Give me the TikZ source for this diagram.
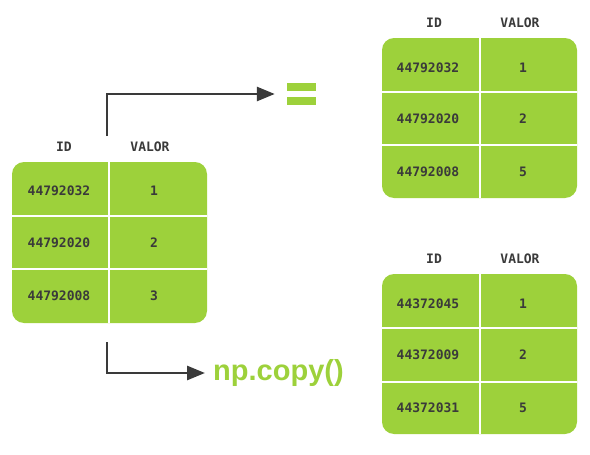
\documentclass[tikz,border=0pt]{standalone}
\usepackage{fontspec}
\usetikzlibrary{arrows.meta}
\newfontfamily\cellfont{DejaVu Sans Mono}
\newfontfamily\codefont{Liberation Sans}
\definecolor{lime}{RGB}{157,209,59}
\definecolor{ink}{RGB}{58,58,58}

\begin{document}
\begin{tikzpicture}[x=1pt,y=-1pt,
  tbl/.style={fill=lime,rounded corners=12pt},
  sep/.style={draw=white,line width=2.4pt},
  cell/.style={font=\cellfont\bfseries\fontsize{13}{15}\selectfont,text=ink,inner sep=0pt},
  arr/.style={draw=ink,line width=2.8pt,-{Triangle[length=18pt,width=14pt]}}]
\useasboundingbox (0,0) rectangle (590,455);
% original array
\fill[tbl] (12,162) rectangle (207,323);
\draw[sep] (109,162) -- (109,323);
\draw[sep] (12,216) -- (207,216);
\draw[sep] (12,269) -- (207,269);
\node[cell] (orig-hid) at (64,147) {ID};
\node[cell] (orig-hval) at (150,147) {VALOR};
\node[cell] (orig-id1) at (59,191) {44792032};
\node[cell] (orig-val1) at (154,191) {1};
\node[cell] (orig-id2) at (59,243) {44792020};
\node[cell] (orig-val2) at (154,243) {2};
\node[cell] (orig-id3) at (59,296) {44792008};
\node[cell] (orig-val3) at (154,296) {3};
% assignment with =
\fill[tbl] (382,38) rectangle (577,198);
\draw[sep] (480,38) -- (480,198);
\draw[sep] (382,92) -- (577,92);
\draw[sep] (382,145) -- (577,145);
\node[cell] (view-hid) at (434,23) {ID};
\node[cell] (view-hval) at (520,23) {VALOR};
\node[cell] (view-id1) at (428,68) {44792032};
\node[cell] (view-val1) at (523,68) {1};
\node[cell] (view-id2) at (428,119) {44792020};
\node[cell] (view-val2) at (523,119) {2};
\node[cell] (view-id3) at (428,172) {44792008};
\node[cell] (view-val3) at (523,172) {5};
% np.copy()
\fill[tbl] (382,274) rectangle (577,434);
\draw[sep] (480,274) -- (480,434);
\draw[sep] (382,328) -- (577,328);
\draw[sep] (382,382) -- (577,382);
\node[cell] (copy-hid) at (434,259) {ID};
\node[cell] (copy-hval) at (520,259) {VALOR};
\node[cell] (copy-id1) at (428,304) {44372045};
\node[cell] (copy-val1) at (523,304) {1};
\node[cell] (copy-id2) at (428,355) {44372009};
\node[cell] (copy-val2) at (523,355) {2};
\node[cell] (copy-id3) at (428,408) {44372031};
\node[cell] (copy-val3) at (523,408) {5};
% arrows
\coordinate (up) at (107,136);
\node[minimum width=29pt,minimum height=22pt,inner sep=0pt] (eq) at (301.5,94) {};
\fill[lime] (eq.north west) rectangle ++(29,8);
\fill[lime] (eq.south west) rectangle ++(29,-8);
\draw[arr,shorten >=12pt] (up) |- (eq.west);
\coordinate (down) at (107,342);
\node[font=\codefont\bfseries\fontsize{29}{31}\selectfont,text=lime,anchor=west,inner sep=0pt] (copy) at (213,373) {np.copy()};
\draw[arr,shorten >=8pt] (down) |- (copy.west);
\end{tikzpicture}
\end{document}
